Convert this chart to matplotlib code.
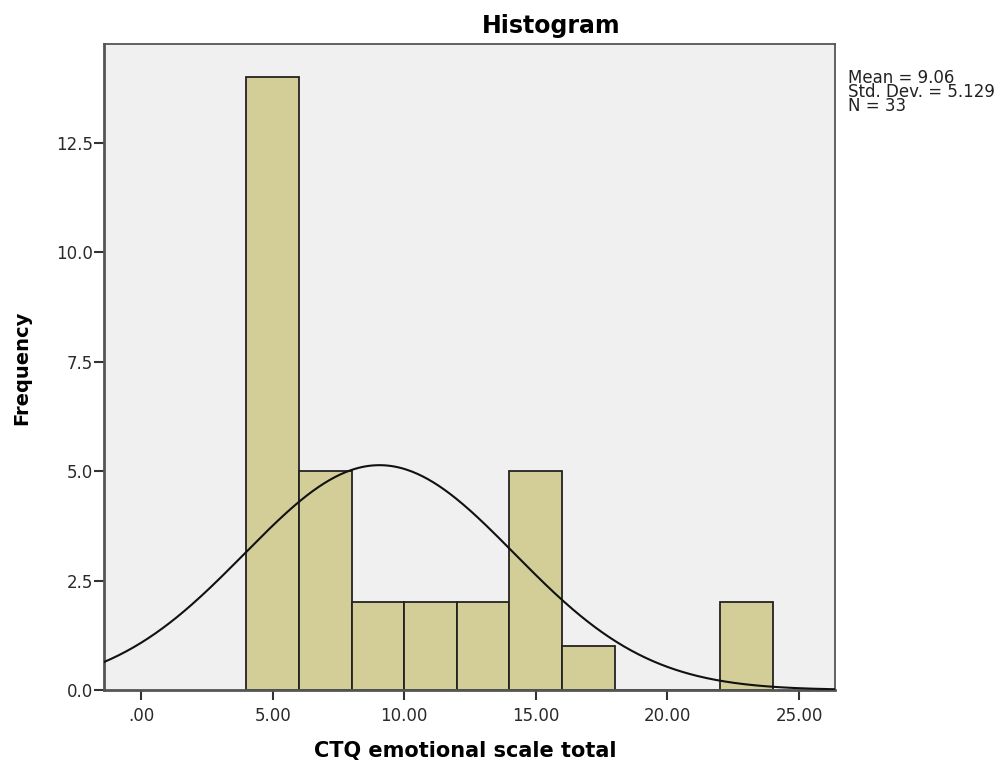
import matplotlib.pyplot as plt
import numpy as np

plt.rcParams['font.family'] = ['DejaVu Sans']

# histogram counts, bins of width 2
bin_edges = [4, 6, 8, 10, 12, 14, 16, 18, 20, 22, 24]
counts = [14, 5, 2, 2, 2, 5, 1, 0, 0, 2]

mean = 9.06
sd = 5.129
n = 33

x_ticks = [0, 5, 10, 15, 20, 25]
x_ticklabels = ['.00', '5.00', '10.00', '15.00', '20.00', '25.00']
y_ticks = [0, 2.5, 5, 7.5, 10, 12.5]
y_ticklabels = ['0.0', '2.5', '5.0', '7.5', '10.0', '12.5']
stats_lines = ['Mean = 9.06', 'Std. Dev. = 5.129', 'N = 33']

W, H = 1005, 765
fig = plt.figure(figsize=(W / 100, H / 100), dpi=100)
ax = fig.add_axes([104 / W, 1 - 690 / H, 731 / W, 646 / H])
ax.set_facecolor('#f0f0f0')

widths = np.diff(bin_edges)
ax.bar(bin_edges[:-1], counts, width=widths, align='edge',
       color='#d3ce97', edgecolor='#222222', linewidth=1.3, zorder=2)

# fitted normal curve scaled to counts
bw = bin_edges[1] - bin_edges[0]
xs = np.linspace(-1.41, 26.37, 400)
ys = n * bw / (sd * np.sqrt(2 * np.pi)) * np.exp(-0.5 * ((xs - mean) / sd) ** 2)
ax.plot(xs, ys, color='#111111', linewidth=1.5, zorder=3)

ax.set_xlim(-1.41, 26.37)
ax.set_ylim(0, 14.75)
ax.set_xticks(x_ticks)
ax.set_xticklabels(x_ticklabels)
ax.set_yticks(y_ticks)
ax.set_yticklabels(y_ticklabels)
ax.tick_params(axis='both', direction='out', length=7, width=1.5,
               color='#333333', labelsize=12, labelcolor='#2a2a2a')
ax.tick_params(axis='x', pad=5)
ax.tick_params(axis='y', pad=1)

for s in ax.spines.values():
    s.set_color('#555555')
    s.set_linewidth(1.3)
ax.spines['left'].set_linewidth(2)
ax.spines['bottom'].set_linewidth(2)

# titles and labels placed in figure pixels
fig.text(551 / W, 1 - 33 / H, 'Histogram', fontsize=17, fontweight='bold',
         ha='center', va='baseline')
fig.text(465 / W, 1 - 757 / H, 'CTQ emotional scale total', fontsize=15,
         fontweight='bold', ha='center', va='baseline')
fig.text(22 / W, 1 - 368 / H, 'Frequency', fontsize=14, fontweight='bold',
         rotation=90, ha='center', va='center')

# summary box text, tightly spaced lines
fig.text(848 / W, 1 - 69 / H, '\n'.join(stats_lines), fontsize=12,
         ha='left', va='top', linespacing=0.72, color='#222222')

fig.savefig('out.png', dpi=100)
